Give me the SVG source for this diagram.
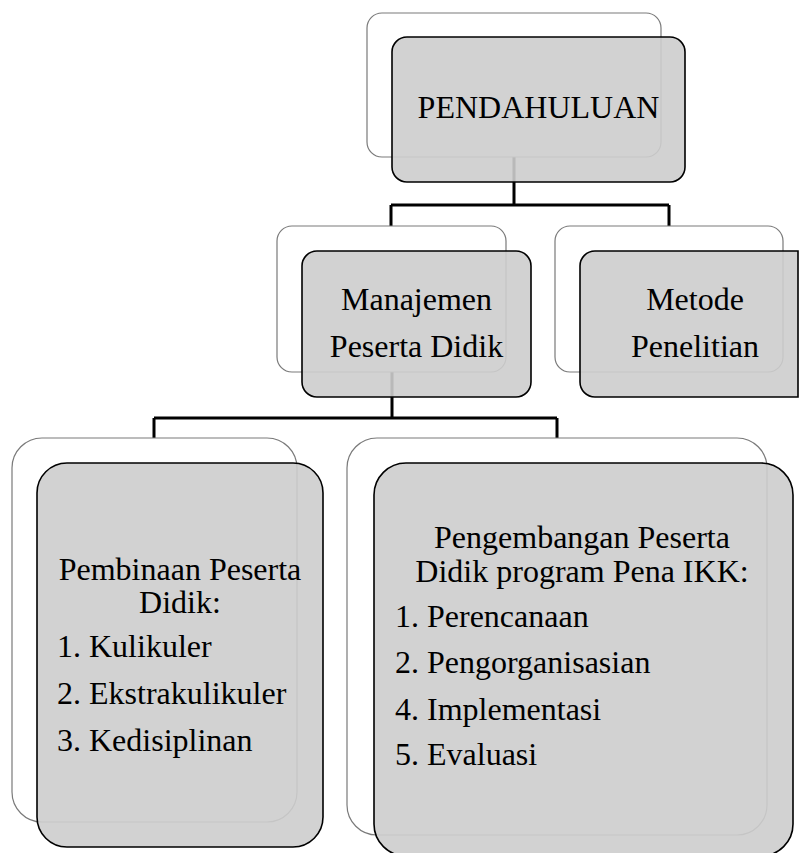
<svg xmlns="http://www.w3.org/2000/svg" width="799" height="853" viewBox="0 0 799 853">
<style>
.back{fill:none;stroke:#7a7a7a;stroke-width:1.2}
.front{fill:#cdcdcd;fill-opacity:0.9;stroke:#000;stroke-width:1.6}
.conn{fill:none;stroke:#000;stroke-width:3}
.t{font-family:'Liberation Serif',serif;font-size:32px;fill:#000}
.c{text-anchor:middle}
</style>
<rect width="799" height="853" fill="#fff"/>
<g id="connectors">
<path class="conn" d="M514 157V205M391 205H669M391 205V226M669 205V226"/>
<path class="conn" d="M392 372V418M154 418H557M154 418V438M557 418V438"/>
</g>
<g id="pendahuluan">
<rect class="back" x="367" y="13" width="294" height="144" rx="15"/>
<rect class="front" x="392" y="37" width="293" height="145" rx="15"/>
<text class="t c" x="538.5" y="118" font-size="31.5">PENDAHULUAN</text>
</g>
<g id="manajemen">
<rect class="back" x="277" y="226" width="229" height="146" rx="15"/>
<rect class="front" x="302" y="251" width="229" height="146" rx="15"/>
<text class="t c" x="416.5" y="310">Manajemen</text>
<text class="t c" x="416.5" y="357">Peserta Didik</text>
</g>
<g id="metode">
<rect class="back" x="555" y="226" width="228" height="146" rx="15"/>
<path class="front" d="M798 251V397H595A15 15 0 0 1 580 382V266A15 15 0 0 1 595 251Z"/>
<text class="t c" x="695" y="310">Metode</text>
<text class="t c" x="695" y="357">Penelitian</text>
</g>
<g id="pembinaan">
<rect class="back" x="12" y="438" width="285" height="384" rx="30"/>
<rect class="front" x="37" y="463" width="286" height="384" rx="30"/>
<text class="t c" x="180" y="580">Pembinaan Peserta</text>
<text class="t c" x="180" y="613">Didik:</text>
<text class="t" x="57" y="657">1. Kulikuler</text>
<text class="t" x="57" y="704">2. Ekstrakulikuler</text>
<text class="t" x="57" y="751">3. Kedisiplinan</text>
</g>
<g id="pengembangan">
<rect class="back" x="347" y="438" width="420" height="397" rx="30"/>
<rect class="front" x="374" y="463" width="419" height="393" rx="32"/>
<text class="t c" x="582" y="548">Pengembangan Peserta</text>
<text class="t c" x="582" y="582">Didik program Pena IKK:</text>
<text class="t" x="395" y="627">1. Perencanaan</text>
<text class="t" x="395" y="673">2. Pengorganisasian</text>
<text class="t" x="395" y="720">4. Implementasi</text>
<text class="t" x="395" y="765">5. Evaluasi</text>
</g>
</svg>
